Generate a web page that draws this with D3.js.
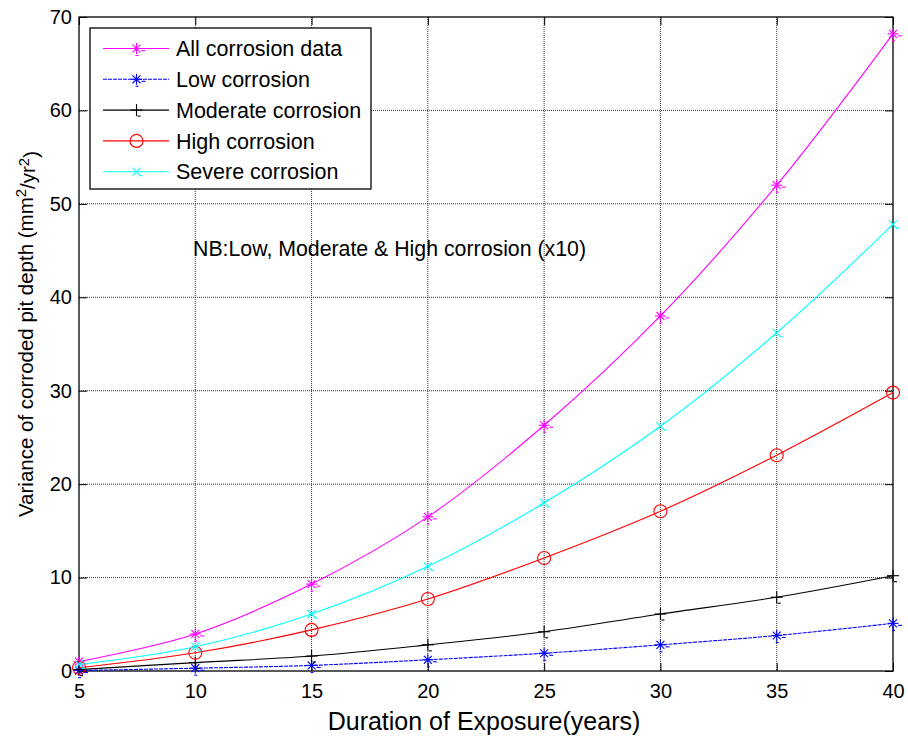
<!DOCTYPE html>
<html><head><meta charset="utf-8">
<script src="https://cdn.jsdelivr.net/npm/d3@7"></script>
<style>
html,body{margin:0;padding:0;background:#fff;}
text{font-family:"Liberation Sans",Arial,sans-serif;fill:#000;}
</style></head>
<body>
<svg id="chart" width="908" height="738"></svg>
<script>
const years = [5, 10, 15, 20, 25, 30, 35, 40];
const allData  = [1.0, 3.96, 9.3, 16.5, 26.3, 38.0, 52.0, 68.2];
const lowData  = [0.05, 0.3, 0.6, 1.2, 1.9, 2.8, 3.8, 5.1];
const modData  = [0.15, 0.9, 1.6, 2.8, 4.2, 6.1, 7.9, 10.2];
const highData = [0.35, 1.95, 4.4, 7.7, 12.1, 17.1, 23.1, 29.8];
const sevData  = [0.7, 2.6, 6.1, 11.2, 18.0, 26.2, 36.2, 47.8];
const seriesNames = ["All corrosion data", "Low corrosion", "Moderate corrosion", "High corrosion", "Severe corrosion"];
const xTicks = [5, 10, 15, 20, 25, 30, 35, 40];
const yTicks = [0, 10, 20, 30, 40, 50, 60, 70];

const series = [
  {name: seriesNames[0], values: allData,  color: "#ff00ff", marker: "star"},
  {name: seriesNames[1], values: lowData,  color: "#0000ff", marker: "star", dash: "4,1"},
  {name: seriesNames[2], values: modData,  color: "#000000", marker: "plus"},
  {name: seriesNames[3], values: highData, color: "#ff0000", marker: "circle"},
  {name: seriesNames[4], values: sevData,  color: "#00ffff", marker: "x"}
];

const L = 79, R = 893, T = 17, B = 671;
const svg = d3.select("#chart");
const x = d3.scaleLinear().domain([5, 40]).range([L, R]);
const y = d3.scaleLinear().domain([0, 70]).range([B, T]);

// grid
const grid = svg.append("g");
xTicks.forEach(t => {
  if (t === 5 || t === 40) return;
  grid.append("line").attr("x1", x(t)).attr("x2", x(t)).attr("y1", T).attr("y2", B)
    .attr("stroke", "#333").attr("stroke-width", 1).attr("stroke-dasharray", "1,1");
});
yTicks.forEach(t => {
  if (t === 0 || t === 70) return;
  grid.append("line").attr("x1", L).attr("x2", R).attr("y1", y(t)).attr("y2", y(t))
    .attr("stroke", "#333").attr("stroke-width", 1).attr("stroke-dasharray", "1,1");
});

// axes with inward ticks
const tl = 8;
const xAxisB = d3.axisBottom(x).tickValues(xTicks).tickSize(-tl).tickPadding(13).tickFormat(d3.format("d"));
const xAxisT = d3.axisTop(x).tickValues(xTicks).tickSize(-tl).tickFormat("");
const yAxisL = d3.axisLeft(y).tickValues(yTicks).tickSize(-tl).tickPadding(7).tickFormat(d3.format("d"));
const yAxisR = d3.axisRight(y).tickValues(yTicks).tickSize(-tl).tickFormat("");

function styleAxis(g) {
  g.select(".domain").remove();
  g.selectAll(".tick line").attr("stroke", "#000");
  g.selectAll("text").style("font-size", "20px").style("font-family", "Liberation Sans, Arial, sans-serif").attr("fill", "#000");
}
svg.append("g").attr("transform", `translate(0,${B})`).call(xAxisB).call(styleAxis);
svg.append("g").attr("transform", `translate(0,${T})`).call(xAxisT).call(styleAxis);
svg.append("g").attr("transform", `translate(${L},0)`).call(yAxisL).call(styleAxis);
svg.append("g").attr("transform", `translate(${R},0)`).call(yAxisR).call(styleAxis);

// box
svg.append("rect").attr("x", L).attr("y", T).attr("width", R - L).attr("height", B - T)
  .attr("fill", "none").attr("stroke", "#000").attr("stroke-width", 1.3);

// marker drawing
function drawMarker(g, type, cx, cy, color) {
  const m = g.append("g").attr("transform", `translate(${cx},${cy})`)
    .attr("stroke", color).attr("fill", "none").attr("stroke-width", 1.1);
  if (type === "star") {
    const r = 5.5;
    m.append("line").attr("x1", -r).attr("x2", r).attr("y1", 0).attr("y2", 0);
    m.append("line").attr("x1", 0).attr("x2", 0).attr("y1", -r).attr("y2", r);
    const d = r * 0.72;
    m.append("line").attr("x1", -d).attr("x2", d).attr("y1", -d).attr("y2", d);
    m.append("line").attr("x1", -d).attr("x2", d).attr("y1", d).attr("y2", -d);
    m.append("line").attr("x1", 5).attr("x2", 9).attr("y1", 2).attr("y2", 2);
    m.append("line").attr("x1", -1).attr("x2", 2).attr("y1", 7).attr("y2", 7);
  } else if (type === "plus") {
    const r = 6;
    m.append("line").attr("x1", -r).attr("x2", r).attr("y1", 0).attr("y2", 0);
    m.append("line").attr("x1", 0).attr("x2", 0).attr("y1", -r).attr("y2", r);
    m.append("line").attr("x1", 1).attr("x2", 4).attr("y1", 6).attr("y2", 6);
  } else if (type === "circle") {
    m.append("circle").attr("r", 6.5);
  } else if (type === "x") {
    const r = 4;
    m.append("line").attr("x1", -r).attr("x2", r).attr("y1", -r).attr("y2", r);
    m.append("line").attr("x1", -r).attr("x2", r).attr("y1", r).attr("y2", -r);
    m.append("line").attr("x1", 3).attr("x2", 6).attr("y1", 4).attr("y2", 4);
  }
}

// lines
const line = d3.line().x(d => x(d[0])).y(d => y(d[1])).curve(d3.curveCatmullRom.alpha(0.5));
const plot = svg.append("g");
series.forEach(s => {
  const pts = years.map((yr, i) => [yr, s.values[i]]);
  plot.append("path").datum(pts).attr("d", line)
    .attr("fill", "none").attr("stroke", s.color).attr("stroke-width", 1.1)
    .attr("stroke-dasharray", s.dash || null);
  pts.forEach(p => drawMarker(plot, s.marker, x(p[0]), y(p[1]), s.color));
});

// legend
const lg = svg.append("g");
lg.append("rect").attr("x", 90).attr("y", 28).attr("width", 281).attr("height", 161)
  .attr("fill", "#fff").attr("stroke", "#000").attr("stroke-width", 1.3);
series.forEach((s, i) => {
  const cy = 48.5 + i * 30.8;
  lg.append("line").attr("x1", 103).attr("x2", 169).attr("y1", cy).attr("y2", cy)
    .attr("stroke", s.color).attr("stroke-width", 1.1).attr("stroke-dasharray", s.dash || null);
  drawMarker(lg, s.marker, 136.5, cy, s.color);
  lg.append("text").attr("x", 176).attr("y", cy).attr("dy", "0.36em")
    .style("font-size", "21.5px").text(s.name);
});

// annotation
svg.append("text").attr("x", 193).attr("y", 256).style("font-size", "21.3px")
  .text("NB:Low, Moderate & High corrosion (x10)");

// axis labels
svg.append("text").attr("x", 484).attr("y", 730).attr("text-anchor", "middle")
  .style("font-size", "25px").text("Duration of Exposure(years)");

const yl = svg.append("text").attr("transform", "translate(33,334) rotate(-90)")
  .attr("text-anchor", "middle").style("font-size", "20.5px");
yl.append("tspan").text("Variance of corroded pit depth (mm");
yl.append("tspan").attr("dy", "-0.45em").style("font-size", "15px").text("2");
yl.append("tspan").attr("dy", "0.45em").text("/yr");
yl.append("tspan").attr("dy", "-0.45em").style("font-size", "15px").text("2");
yl.append("tspan").attr("dy", "0.45em").text(")");
</script>
</body></html>
